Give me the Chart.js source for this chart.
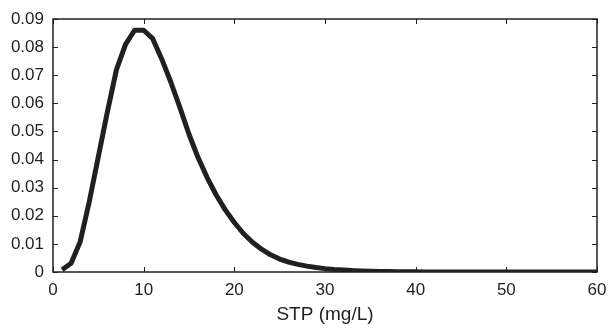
<!DOCTYPE html>
<html>
<head>
<meta charset="utf-8">
<script src="https://cdn.jsdelivr.net/npm/chart.js@4/dist/chart.umd.min.js"></script>
<style>
  html, body { margin: 0; padding: 0; background: #fff; }
  #chart { display: block; }
</style>
</head>
<body>
<canvas id="chart" width="608" height="331"></canvas>
<script>
const stpValues = [
  1, 2, 3, 4, 5, 6, 7, 8, 9, 10,
  11, 12, 13, 14, 15, 16, 17, 18, 19, 20,
  21, 22, 23, 24, 25, 26, 27, 28, 29, 30,
  31, 32, 33, 34, 35, 36, 37, 38, 39, 40,
  41, 42, 43, 44, 45, 46, 47, 48, 49, 50,
  51, 52, 53, 54, 55, 56, 57, 58, 59, 60
];
const density = [
  0.0008, 0.0031, 0.0108, 0.025, 0.041, 0.057, 0.072, 0.081, 0.086, 0.086,
  0.083, 0.0757, 0.0675, 0.0585, 0.049, 0.0407, 0.0336, 0.0274, 0.0221, 0.0176,
  0.0137, 0.0106, 0.0081, 0.0061, 0.0046, 0.0035, 0.0027, 0.0021, 0.0016, 0.0012,
  0.0009, 0.0007, 0.0005, 0.0004, 0.0003, 0.0002, 0.00015, 0.0001, 0.00007, 0.00005,
  0.00003, 0.00002, 0.00001, 0.00001, 0, 0, 0, 0, 0, 0,
  0, 0, 0, 0, 0, 0, 0, 0, 0, 0
];
const xTicks = [0, 10, 20, 30, 40, 50, 60];
const yTicks = [0, 0.01, 0.02, 0.03, 0.04, 0.05, 0.06, 0.07, 0.08, 0.09];
const xTitle = "STP (mg/L)";

const ink = "#231f20";
const font = "'Liberation Sans', Arial, Helvetica, sans-serif";

// box round the plot and MATLAB-style inward ticks
const boxPlugin = {
  id: "box",
  afterDraw(chart) {
    const { ctx, chartArea: a, scales } = chart;
    ctx.save();
    ctx.strokeStyle = ink;
    ctx.lineWidth = 1.5;
    ctx.strokeRect(a.left, a.top, a.right - a.left, a.bottom - a.top);
    ctx.lineWidth = 1;
    ctx.beginPath();
    const len = 5;
    xTicks.forEach(v => {
      const px = Math.round(scales.x.getPixelForValue(v)) + 0.5;
      ctx.moveTo(px, a.bottom); ctx.lineTo(px, a.bottom - len);
      ctx.moveTo(px, a.top); ctx.lineTo(px, a.top + len);
    });
    yTicks.forEach(v => {
      const py = Math.round(scales.y.getPixelForValue(v)) + 0.5;
      ctx.moveTo(a.left, py); ctx.lineTo(a.left + len, py);
      ctx.moveTo(a.right, py); ctx.lineTo(a.right - len, py);
    });
    ctx.stroke();
    ctx.restore();
  }
};

new Chart(document.getElementById("chart"), {
  type: "line",
  data: {
    datasets: [{
      data: stpValues.map((x, i) => ({ x: x, y: density[i] })),
      borderColor: ink,
      borderWidth: 5,
      borderJoinStyle: "round",
      pointRadius: 0,
      tension: 0,
      fill: false
    }]
  },
  options: {
    responsive: false,
    animation: false,
    events: [],
    layout: { padding: { top: 19, right: 11, left: 0, bottom: 0 } },
    plugins: { legend: { display: false }, tooltip: { enabled: false } },
    scales: {
      x: {
        type: "linear",
        min: 0,
        max: 60,
        afterBuildTicks: s => { s.ticks = xTicks.map(v => ({ value: v })); },
        afterFit: s => { s.height = 59; s.paddingLeft = 0; s.paddingRight = 0; },
        grid: { display: false, drawTicks: false },
        border: { display: false },
        ticks: { color: ink, padding: 8, maxRotation: 0, font: { family: font, size: 17 } },
        title: {
          display: true,
          text: xTitle,
          color: ink,
          padding: { top: 0, bottom: 5 },
          font: { family: font, size: 19 }
        }
      },
      y: {
        min: 0,
        max: 0.09,
        afterBuildTicks: s => { s.ticks = yTicks.map(v => ({ value: v })); },
        afterFit: s => { s.width = 53; s.paddingTop = 0; s.paddingBottom = 0; },
        grid: { display: false, drawTicks: false },
        border: { display: false },
        ticks: {
          color: ink,
          padding: 9,
          font: { family: font, size: 17 },
          callback: v => (v === 0 ? "0" : v.toFixed(2))
        }
      }
    }
  },
  plugins: [boxPlugin]
});
</script>
</body>
</html>
